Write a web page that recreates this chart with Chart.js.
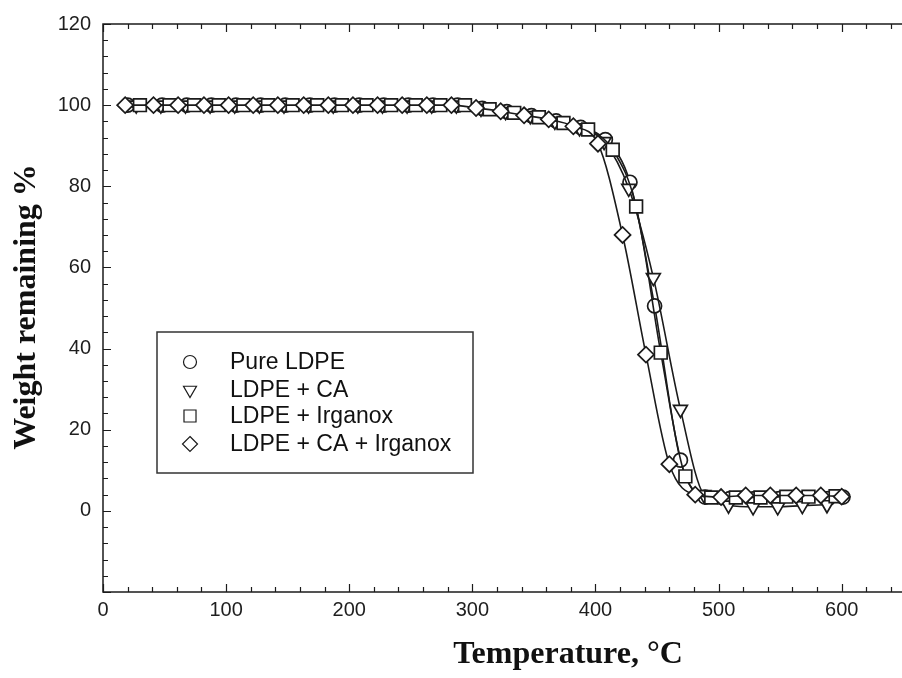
<!DOCTYPE html>
<html>
<head>
<meta charset="utf-8">
<script src="https://cdn.jsdelivr.net/npm/chart.js@4.4.1/dist/chart.umd.min.js"></script>
<style>
  html, body { margin: 0; padding: 0; background: #ffffff; overflow: hidden; }
  canvas { display: block; }
</style>
</head>
<body>
<canvas id="tga" width="914" height="678"></canvas>
<script>
// Axis tick labels
const xTickValues = [0, 100, 200, 300, 400, 500, 600];
const yTickValues = [0, 20, 40, 60, 80, 100, 120];

// Series names
const seriesNames = ['Pure LDPE', 'LDPE + CA', 'LDPE + Irganox', 'LDPE + CA + Irganox'];

// Pure LDPE
const pureTemp = [20, 48, 68, 88, 108, 128, 148, 168, 188, 208, 228, 248, 268, 288, 308, 328, 348, 368, 388, 408, 428, 448, 469, 489, 509, 529, 549, 569, 589, 601];
const pureWeight = [100, 100, 100, 100, 100, 100, 100, 100, 100, 100, 100, 100, 100, 100, 99.2, 98.4, 97.4, 96.1, 94.5, 91.5, 81.0, 50.5, 12.5, 3.4, 3.0, 3.0, 3.0, 3.0, 3.0, 3.4];

// LDPE + CA
const caTemp = [27, 47, 67, 87, 107, 127, 147, 167, 187, 207, 227, 247, 267, 287, 307, 327, 347, 367, 387, 407, 427, 447, 469, 488, 508, 528, 548, 568, 588];
const caWeight = [100, 100, 100, 100, 100, 100, 100, 100, 100, 100, 100, 100, 100, 100, 99.2, 98.4, 97.4, 96.0, 94.4, 91.0, 79.5, 57.5, 25.0, 4.0, 1.4, 1.0, 1.0, 1.3, 1.5];

// LDPE + Irganox
const irgTemp = [30, 54, 74, 94, 114, 134, 154, 174, 194, 214, 234, 254, 274, 294, 314, 334, 354, 374, 394, 414, 433, 453, 473, 494, 514, 534, 555, 573, 595];
const irgWeight = [100, 100, 100, 100, 100, 100, 100, 100, 100, 100, 100, 100, 100, 100, 99.0, 98.1, 97.0, 95.6, 94.0, 89.0, 75.0, 39.0, 8.5, 3.3, 3.3, 3.3, 3.5, 3.5, 3.6];

// LDPE + CA + Irganox
const caIrgTemp = [18, 41, 61, 82, 102, 122, 142, 163, 183, 203, 223, 243, 263, 283, 303, 323, 342, 362, 382, 402, 422, 441, 460, 481, 502, 522, 542, 563, 583, 600];
const caIrgWeight = [100, 100, 100, 100, 100, 100, 100, 100, 100, 100, 100, 100, 100, 100, 99.3, 98.5, 97.5, 96.5, 94.8, 90.5, 68.0, 38.5, 11.5, 4.0, 3.4, 3.8, 3.8, 3.8, 3.8, 3.5];

const X_MIN = 0, X_MAX = 650, X_MINOR = 20;
const Y_MIN = -20, Y_MAX = 120, Y_MINOR = 4;

const INK = '#1b1b1b';
const SERIF = '"Liberation Serif", "Times New Roman", serif';
const SANS = '"Liberation Sans", Arial, sans-serif';

function pairs(xs, ys) {
  return xs.map((t, i) => ({ x: t, y: ys[i] }));
}

const markerStyles = [
  { pointStyle: 'circle', radius: 7, rotation: 0 },
  { pointStyle: 'triangle', radius: 8, rotation: 180 },
  { pointStyle: 'rect', radius: 9, rotation: 0 },
  { pointStyle: 'rectRot', radius: 8, rotation: 0 }
];

const seriesData = [
  pairs(pureTemp, pureWeight),
  pairs(caTemp, caWeight),
  pairs(irgTemp, irgWeight),
  pairs(caIrgTemp, caIrgWeight)
];

const datasets = seriesNames.map((name, i) => ({
  label: name,
  data: seriesData[i],
  order: 3 - i,
  borderColor: INK,
  borderWidth: 1.6,
  backgroundColor: '#ffffff',
  pointStyle: markerStyles[i].pointStyle,
  pointRadius: markerStyles[i].radius,
  pointRotation: markerStyles[i].rotation,
  pointBorderColor: INK,
  pointBackgroundColor: '#ffffff',
  pointBorderWidth: 1.7,
  pointHoverRadius: markerStyles[i].radius,
  fill: false,
  cubicInterpolationMode: 'monotone'
}));

// Axis frame with inward major/minor ticks (the right side runs past the page edge)
const frameTicks = {
  id: 'frameTicks',
  beforeDatasetsDraw(chart) {
    const { ctx, chartArea: a, scales: { x, y } } = chart;
    ctx.save();
    ctx.strokeStyle = INK;
    ctx.lineWidth = 1.5;
    ctx.strokeRect(a.left, a.top, a.right - a.left, a.bottom - a.top);
    ctx.lineWidth = 1.2;
    ctx.beginPath();
    for (let v = X_MIN; v <= X_MAX; v += X_MINOR) {
      const px = Math.round(x.getPixelForValue(v)) + 0.5;
      const len = v % 100 === 0 ? 8 : 5;
      ctx.moveTo(px, a.bottom); ctx.lineTo(px, a.bottom - len);
      ctx.moveTo(px, a.top); ctx.lineTo(px, a.top + len);
    }
    for (let v = Y_MIN; v <= Y_MAX; v += Y_MINOR) {
      const py = Math.round(y.getPixelForValue(v)) + 0.5;
      const len = v % 20 === 0 ? 8 : 5;
      ctx.moveTo(a.left, py); ctx.lineTo(a.left + len, py);
    }
    ctx.stroke();
    ctx.restore();
  }
};

// Axis titles in bold serif
const axisTitles = {
  id: 'axisTitles',
  afterDraw(chart) {
    const ctx = chart.ctx;
    ctx.save();
    ctx.fillStyle = '#111111';
    ctx.font = 'bold 32px ' + SERIF;
    ctx.textAlign = 'center';
    ctx.textBaseline = 'middle';
    ctx.fillText('Temperature, °C', 568, 655);
    ctx.translate(27, 307);
    ctx.rotate(-Math.PI / 2);
    ctx.fillText('Weight remaining %', 0, 0);
    ctx.restore();
  }
};

function drawMarker(ctx, style, cx, cy, r) {
  ctx.beginPath();
  if (style === 'circle') {
    ctx.arc(cx, cy, r, 0, Math.PI * 2);
  } else if (style === 'triangle') {
    ctx.moveTo(cx - r * 0.866, cy - r * 0.5);
    ctx.lineTo(cx + r * 0.866, cy - r * 0.5);
    ctx.lineTo(cx, cy + r);
    ctx.closePath();
  } else if (style === 'rect') {
    const s = r * Math.SQRT1_2;
    ctx.rect(cx - s, cy - s, 2 * s, 2 * s);
  } else {
    ctx.moveTo(cx, cy - r);
    ctx.lineTo(cx + r, cy);
    ctx.lineTo(cx, cy + r);
    ctx.lineTo(cx - r, cy);
    ctx.closePath();
  }
  ctx.fillStyle = '#ffffff';
  ctx.fill();
  ctx.stroke();
}

// Framed legend inside the plot area
const boxLegend = {
  id: 'boxLegend',
  afterDatasetsDraw(chart) {
    const ctx = chart.ctx;
    const box = { left: 157, top: 332, width: 316, height: 141 };
    ctx.save();
    ctx.fillStyle = '#ffffff';
    ctx.fillRect(box.left, box.top, box.width, box.height);
    ctx.strokeStyle = '#333333';
    ctx.lineWidth = 1.5;
    ctx.strokeRect(box.left, box.top, box.width, box.height);
    ctx.font = '23px ' + SANS;
    ctx.textBaseline = 'middle';
    ctx.textAlign = 'left';
    const rowY = [362, 390, 416, 444];
    const legendSize = [6.5, 7.5, 8.5, 7.5];
    seriesNames.forEach((name, i) => {
      ctx.strokeStyle = INK;
      ctx.lineWidth = 1.2;
      drawMarker(ctx, markerStyles[i].pointStyle, 190, rowY[i], legendSize[i]);
      ctx.fillStyle = '#111111';
      ctx.fillText(name, 230, rowY[i] + 1);
    });
    ctx.restore();
  }
};

new Chart(document.getElementById('tga'), {
  type: 'line',
  data: { datasets },
  plugins: [frameTicks, boxLegend, axisTitles],
  options: {
    responsive: false,
    animation: false,
    devicePixelRatio: 1,
    layout: { padding: { top: 20, right: 4, left: 0, bottom: 0 } },
    plugins: {
      legend: { display: false },
      tooltip: { enabled: false }
    },
    scales: {
      x: {
        type: 'linear',
        min: X_MIN,
        max: X_MAX,
        grid: { display: false, drawTicks: false },
        border: { display: false },
        afterBuildTicks: s => { s.ticks = xTickValues.map(v => ({ value: v })); },
        afterFit: s => { s.height = 86; },
        ticks: {
          color: '#1e1e1e',
          padding: 6,
          maxRotation: 0,
          autoSkip: false,
          font: { family: SANS, size: 20 }
        }
      },
      y: {
        type: 'linear',
        min: Y_MIN,
        max: Y_MAX,
        grid: { display: false, drawTicks: false },
        border: { display: false },
        afterBuildTicks: s => { s.ticks = yTickValues.map(v => ({ value: v })); },
        afterFit: s => { s.width = 103; },
        ticks: {
          color: '#1e1e1e',
          padding: 12,
          autoSkip: false,
          font: { family: SANS, size: 20 }
        }
      }
    }
  }
});
</script>
</body>
</html>
